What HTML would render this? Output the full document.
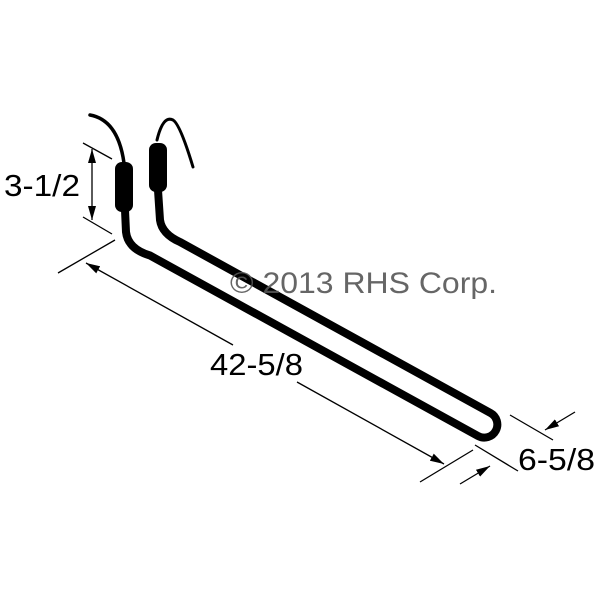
<!DOCTYPE html>
<html><head><style>
html,body{margin:0;padding:0;background:#fff;}
svg{display:block;}
text{font-family:"Liberation Sans",Arial,sans-serif;}
</style></head><body>
<svg width="600" height="600" viewBox="0 0 600 600" xmlns="http://www.w3.org/2000/svg">
<defs>
<marker id="ah" markerWidth="14" markerHeight="8" refX="14" refY="4" orient="auto" markerUnits="userSpaceOnUse">
<path d="M0,0 L14,4 L0,8 Z" fill="#000"/>
</marker>
</defs>
<g fill="none" stroke="#000" stroke-linecap="round">
<path d="M90 115 Q118 120 124 163" stroke-width="3.5"/>
<path d="M157 140 Q163 115 173 120 Q180 124 193 167" stroke-width="3"/>
<path d="M125 210 L126 232 Q128 249 150 255.5 L478 436 A13 13 0 0 0 490.5 413 L180 242 Q162 234 160 220 L158 190" stroke-width="8"/>
</g>
<rect x="115" y="162" width="18" height="50" rx="7" fill="#000"/>
<rect x="149" y="143" width="18" height="49" rx="7" fill="#000"/>
<g stroke="#000" stroke-width="1.3" fill="none">
<line x1="83" y1="143" x2="112" y2="159"/>
<line x1="83" y1="217" x2="112" y2="234"/>
<line x1="92" y1="182" x2="92" y2="149" marker-end="url(#ah)"/>
<line x1="92" y1="182" x2="92" y2="220" marker-end="url(#ah)"/>
<line x1="58" y1="273" x2="115" y2="240"/>
<line x1="233" y1="345" x2="86" y2="263" marker-end="url(#ah)"/>
<line x1="297" y1="382" x2="444" y2="464" marker-end="url(#ah)"/>
<line x1="420" y1="482" x2="473" y2="450"/>
<line x1="510" y1="415" x2="553" y2="440"/>
<line x1="475" y1="445" x2="518" y2="471"/>
<line x1="575" y1="412" x2="545" y2="430" marker-end="url(#ah)"/>
<line x1="460" y1="484" x2="490" y2="466" marker-end="url(#ah)"/>
</g>
<text x="4" y="196" font-size="31" textLength="76" lengthAdjust="spacingAndGlyphs">3-1/2</text>
<text x="210" y="375" font-size="31" textLength="93" lengthAdjust="spacingAndGlyphs">42-5/8</text>
<text x="518" y="470" font-size="31" textLength="77" lengthAdjust="spacingAndGlyphs">6-5/8</text>
<text x="230" y="293" font-size="30" fill="#555" fill-opacity="0.9" textLength="267" lengthAdjust="spacingAndGlyphs">© 2013 RHS Corp.</text>
</svg>
</body></html>
